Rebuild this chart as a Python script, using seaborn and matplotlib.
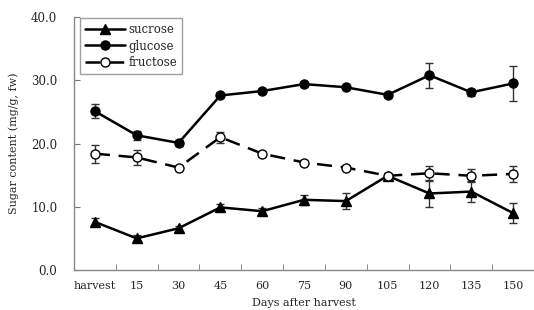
import numpy as np
import pandas as pd
import matplotlib
matplotlib.use("Agg")
import matplotlib.pyplot as plt
import seaborn as sns

# categories on the x axis
days = ["harvest", "15", "30", "45", "60", "75", "90", "105", "120", "135", "150"]

# mean sugar content (mg/g, fw) and error bar half-lengths
sucrose = [7.6, 5.0, 6.6, 9.9, 9.3, 11.1, 10.9, 14.9, 12.1, 12.4, 9.0]
sucrose_err = [0.6, 0.6, 0.4, 0.6, 0.5, 0.8, 1.2, 0.5, 2.2, 1.7, 1.6]
glucose = [25.1, 21.3, 20.1, 27.6, 28.3, 29.4, 28.9, 27.7, 30.8, 28.1, 29.5]
glucose_err = [1.1, 0.7, 0.5, 0.3, 0.3, 0.3, 0.3, 0.3, 2.0, 0.6, 2.7]
fructose = [18.4, 17.8, 16.2, 21.0, 18.4, 17.0, 16.2, 14.9, 15.3, 14.9, 15.2]
fructose_err = [1.4, 1.2, 0.3, 0.9, 0.3, 0.3, 0.3, 0.3, 1.2, 1.0, 1.3]

sns.set_style("ticks")
plt.rcParams["font.family"] = ["DejaVu Serif"]

pos = np.arange(len(days))
df = pd.DataFrame({
    "pos": np.tile(pos, 3),
    "value": sucrose + glucose + fructose,
    "err": sucrose_err + glucose_err + fructose_err,
    "sugar": ["sucrose"] * len(days) + ["glucose"] * len(days) + ["fructose"] * len(days),
})

fig = plt.figure(figsize=(5.34, 3.10), dpi=100)
ax = fig.add_axes([0.1386, 0.129, 0.8614, 0.816])

# error bars first so the markers sit on top
for name, grp in df.groupby("sugar", sort=False):
    ax.errorbar(grp["pos"], grp["value"], yerr=grp["err"], fmt="none",
                ecolor="#333333", elinewidth=1.0, capsize=3, capthick=1.0, zorder=2)

styles = {
    "sucrose": dict(marker="^", mfc="black", ls="-", ms=7),
    "glucose": dict(marker="o", mfc="black", ls="-", ms=6.5),
    "fructose": dict(marker="o", mfc="white", ls=(0, (6, 3.5)), ms=6.5),
}
for name, grp in df.groupby("sugar", sort=False):
    st = styles[name]
    sns.lineplot(x="pos", y="value", data=grp, ax=ax, color="black", lw=1.8,
                 marker=st["marker"], markersize=st["ms"], markerfacecolor=st["mfc"],
                 markeredgecolor="black", markeredgewidth=1.0,
                 linestyle=st["ls"], label=name, zorder=3)

ax.set_xlim(-0.5, len(days) - 0.5)
ax.set_ylim(0, 40)
ax.set_yticks([0, 10, 20, 30, 40])
ax.set_yticklabels([f"{v:.1f}" for v in [0, 10, 20, 30, 40]])
ax.set_xticks(pos)
ax.set_xticklabels(days)
ax.set_xticks(pos[:-1] + 0.5, minor=True)
ax.tick_params(axis="x", which="major", length=0, pad=8, labelsize=8)
ax.tick_params(axis="x", which="minor", direction="in", length=4, color="#777777")
ax.tick_params(axis="y", direction="in", length=4, color="#777777", labelsize=8.5, pad=12)

for s in ["top", "right"]:
    ax.spines[s].set_visible(False)
for s in ["left", "bottom"]:
    ax.spines[s].set_color("#888888")
    ax.spines[s].set_linewidth(1.0)

ax.set_xlabel("Days after harvest", fontsize=8, labelpad=5)
ax.set_ylabel("Sugar content (mg/g, fw)", fontsize=8, labelpad=9)

leg = ax.legend(loc="upper left", bbox_to_anchor=(0.013, 0.995), borderaxespad=0,
                frameon=True, fancybox=False, edgecolor="#888888", fontsize=8.5,
                handlelength=3.4, borderpad=0.4, labelspacing=0.3, handletextpad=0.3)
leg.get_frame().set_linewidth(1.0)

fig.savefig("out.png", dpi=100)
